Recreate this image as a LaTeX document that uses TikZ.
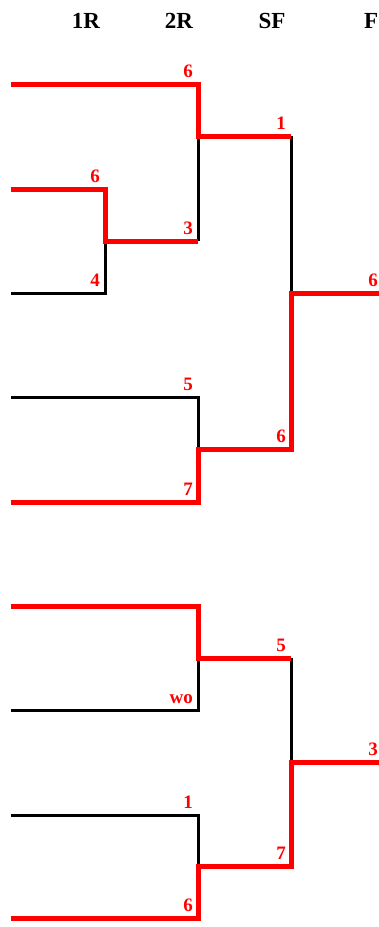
\documentclass[tikz,border=0pt]{standalone}
\usepackage{fontspec}
\setmainfont{Liberation Serif}
\begin{document}
\begin{tikzpicture}[x=1pt,y=-1pt,
  win/.style={draw=red,line width=5pt,line join=miter},
  lose/.style={draw=black,line width=3pt,line join=miter},
  score/.style={text=red,font=\bfseries\fontsize{19}{19}\selectfont,inner sep=0pt,anchor=base east},
  head/.style={font=\bfseries\fontsize{23}{23}\selectfont,inner sep=0pt,anchor=base}]
\useasboundingbox (0,0) rectangle (379,927);
% headers
\node[head] (h1) at (86,28) {1R};
\node[head] (h2) at (179,28) {2R};
\node[head] (h3) at (272,28) {SF};
\node[head,anchor=base west] (h4) at (364,28) {F};
% coordinates
\coordinate (a1) at (11,84);  \coordinate (b1) at (198,84);
\coordinate (a2) at (11,189); \coordinate (b2) at (105,189);
\coordinate (a3) at (11,293); \coordinate (b3) at (105,293);
\coordinate (m23) at (105,241); \coordinate (n23) at (198,241);
\coordinate (m1) at (198,136); \coordinate (n1) at (291,136);
\coordinate (a4) at (11,397); \coordinate (b4) at (198,397);
\coordinate (a5) at (11,502); \coordinate (b5) at (198,502);
\coordinate (m45) at (198,449); \coordinate (n45) at (291,449);
\coordinate (f1) at (291,293); \coordinate (g1) at (379,293);
\coordinate (a6) at (11,606); \coordinate (b6) at (198,606);
\coordinate (a7) at (11,710); \coordinate (b7) at (198,710);
\coordinate (m67) at (198,658); \coordinate (n67) at (291,658);
\coordinate (a8) at (11,815); \coordinate (b8) at (198,815);
\coordinate (a9) at (11,918); \coordinate (b9) at (198,918);
\coordinate (m89) at (198,866); \coordinate (n89) at (291,866);
\coordinate (f2) at (291,762); \coordinate (g2) at (379,762);
% losers (black)
\draw[lose] (m1) -- (n23);
\draw[lose] (a3) -- (b3) -- (m23);
\draw[lose] (n1) -- (f1);
\draw[lose] (a4) -- (b4) -- (m45);
\draw[lose] (a7) -- (b7) -- (m67);
\draw[lose] (n67) -- (f2);
\draw[lose] (a8) -- (b8) -- (m89);
% winners (red)
\draw[win] (a1) -- (b1) -- (m1) -- (n1);
\draw[win] (a2) -- (b2) -- (m23) -- (n23);
\draw[win] (a5) -- (b5) -- (m45) -- (n45) -- (f1) -- (g1);
\draw[win] (a6) -- (b6) -- (m67) -- (n67);
\draw[win] (a9) -- (b9) -- (m89) -- (n89) -- (f2) -- (g2);
% scores
\node[score] (s1) at ([shift={(-5,-7)}]b1) {6};
\node[score] (s2) at ([shift={(-5,-7)}]b2) {6};
\node[score] (s3) at ([shift={(-5,-7)}]b3) {4};
\node[score] (s23) at ([shift={(-5,-7)}]n23) {3};
\node[score] (s1b) at ([shift={(-5,-7)}]n1) {1};
\node[score] (s4) at ([shift={(-5,-7)}]b4) {5};
\node[score] (s5) at ([shift={(-5,-7)}]b5) {7};
\node[score] (s45) at ([shift={(-5,-7)}]n45) {6};
\node[score] (sg1) at ([shift={(-1,-7)}]g1) {6};
\node[score] (s67) at ([shift={(-5,-7)}]n67) {5};
\node[score] (s7) at ([shift={(-5,-7)}]b7) {wo};
\node[score] (s8) at ([shift={(-5,-7)}]b8) {1};
\node[score] (s9) at ([shift={(-5,-7)}]b9) {6};
\node[score] (s89) at ([shift={(-5,-7)}]n89) {7};
\node[score] (sg2) at ([shift={(-1,-7)}]g2) {3};
\end{tikzpicture}
\end{document}
